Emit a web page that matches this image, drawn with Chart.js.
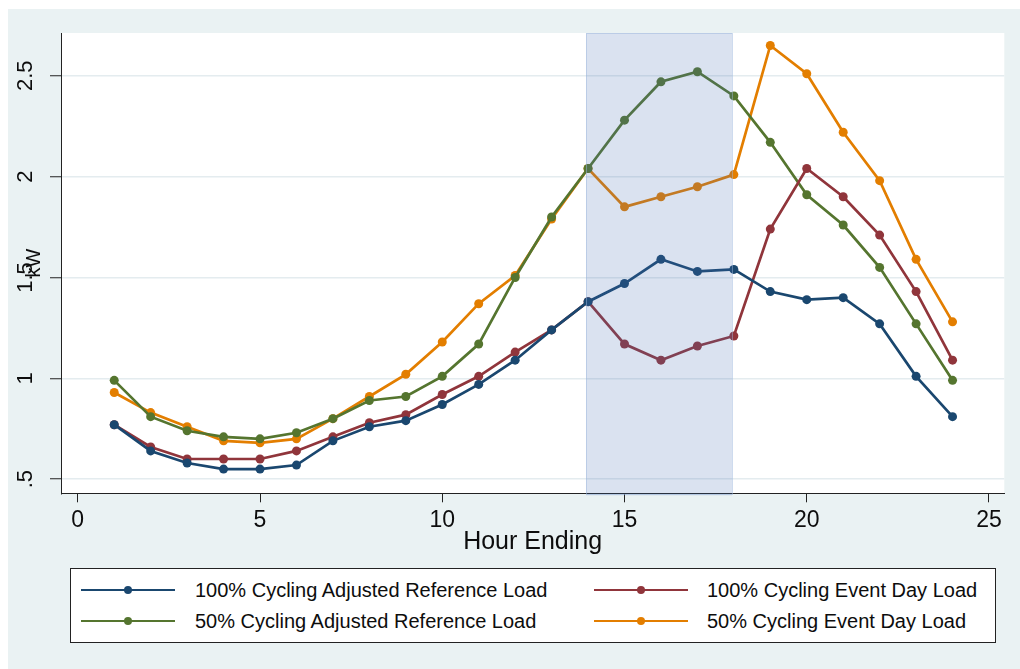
<!DOCTYPE html>
<html>
<head>
<meta charset="utf-8">
<title>Hourly load, cycling event day</title>
<script src="https://cdn.jsdelivr.net/npm/chart.js@4.4.1/dist/chart.umd.min.js"></script>
<style>
    html, body { margin: 0; padding: 0; background: #fff; }
    #frame { position: absolute; left: 8px; top: 9px; width: 1012px; height: 660px; background: #eaf2f3; overflow: hidden; }
    #chart { position: absolute; left: 0; top: 0; }
    #legend {
        position: absolute; left: 62px; top: 559px; width: 924px; height: 73px;
        background: #fff; border: 1px solid #222;
        font-family: "Liberation Sans", Arial, sans-serif; font-size: 20px; color: #0d0d0d;
    }
    .swatch { position: absolute; width: 94px; height: 2px; }
    .swatch i { position: absolute; left: 43px; top: -3px; width: 8px; height: 8px; border-radius: 50%; }
    .label { position: absolute; white-space: nowrap; line-height: 22px; }
</style>
</head>
<body>
<div id="frame">
    <canvas id="chart" width="1012" height="555"></canvas>
    <div id="legend"></div>
</div>
<script>
(function () {
    "use strict";

    const hours = [1, 2, 3, 4, 5, 6, 7, 8, 9, 10, 11, 12, 13, 14, 15, 16, 17, 18, 19, 20, 21, 22, 23, 24];
    const adj100 = [0.77, 0.64, 0.58, 0.55, 0.55, 0.57, 0.69, 0.76, 0.79, 0.87, 0.97, 1.09, 1.24, 1.38, 1.47, 1.59, 1.53, 1.54, 1.43, 1.39, 1.40, 1.27, 1.01, 0.81];
    const event100 = [0.77, 0.66, 0.60, 0.60, 0.60, 0.64, 0.71, 0.78, 0.82, 0.92, 1.01, 1.13, 1.24, 1.38, 1.17, 1.09, 1.16, 1.21, 1.74, 2.04, 1.90, 1.71, 1.43, 1.09];
    const adj50 = [0.99, 0.81, 0.74, 0.71, 0.70, 0.73, 0.80, 0.89, 0.91, 1.01, 1.17, 1.50, 1.80, 2.04, 2.28, 2.47, 2.52, 2.40, 2.17, 1.91, 1.76, 1.55, 1.27, 0.99];
    const event50 = [0.93, 0.83, 0.76, 0.69, 0.68, 0.70, 0.80, 0.91, 1.02, 1.18, 1.37, 1.51, 1.79, 2.04, 1.85, 1.90, 1.95, 2.01, 2.65, 2.51, 2.22, 1.98, 1.59, 1.28];
    const seriesNames = [
        "100% Cycling Adjusted Reference Load",
        "100% Cycling Event Day Load",
        "50% Cycling Adjusted Reference Load",
        "50% Cycling Event Day Load"
    ];
    const xTicks = [0, 5, 10, 15, 20, 25];
    const yTicks = [0.5, 1, 1.5, 2, 2.5];
    const yTickLabels = [".5", "1", "1.5", "2", "2.5"];
    const eventWindow = [14, 18];

    const palette = {
        navy: "#1a476f",
        maroon: "#90353b",
        green: "#55752f",
        orange: "#e37e00",
        text: "#0d0d0d",
        axis: "#222",
        grid: "#e4ecef"
    };
    const family = '"Liberation Sans", Arial, sans-serif';

    const series = [
        { name: seriesNames[0], values: adj100, color: palette.navy },
        { name: seriesNames[1], values: event100, color: palette.maroon },
        { name: seriesNames[2], values: adj50, color: palette.green },
        { name: seriesNames[3], values: event50, color: palette.orange }
    ];

    // white plot region on the grey page
    const plotBackground = {
        id: "plotBackground",
        beforeDraw(chart) {
            const { ctx, chartArea: a } = chart;
            ctx.save();
            ctx.fillStyle = "#fff";
            ctx.fillRect(a.left, a.top, a.right - a.left, a.bottom - a.top);
            ctx.restore();
        }
    };

    // translucent box over the event hours (stata draws it a hair left of the hour)
    const eventShade = {
        id: "eventShade",
        afterDatasetsDraw(chart) {
            const { ctx, chartArea: a, scales: { x } } = chart;
            const x1 = Math.round(x.getPixelForValue(eventWindow[0]) - 2);
            const x2 = Math.round(x.getPixelForValue(eventWindow[1]) - 2);
            ctx.save();
            ctx.fillStyle = "rgba(70,110,180,0.2)";
            ctx.fillRect(x1, a.top, x2 - x1, a.bottom - a.top + 2);
            ctx.strokeStyle = "#9db6dc";
            ctx.lineWidth = 1;
            ctx.setLineDash([1, 1]);
            ctx.strokeRect(x1 + 0.5, Math.round(a.top) + 0.5, x2 - x1, Math.round(a.bottom - a.top) + 1);
            ctx.restore();
        }
    };

    new Chart(document.getElementById("chart"), {
        type: "line",
        data: {
            datasets: series.map((s) => ({
                label: s.name,
                data: hours.map((h, i) => ({ x: h, y: s.values[i] })),
                borderColor: s.color,
                backgroundColor: s.color,
                borderWidth: 2.7,
                pointRadius: 4.5,
                pointHoverRadius: 4.5,
                pointBorderWidth: 0,
                tension: 0
            }))
        },
        options: {
            responsive: false,
            animation: false,
            layout: { padding: { top: 24, right: 15.7, left: 0, bottom: 0 } },
            plugins: {
                legend: { display: false },
                tooltip: { enabled: false }
            },
            scales: {
                x: {
                    type: "linear",
                    min: -0.46,
                    max: 25.42,
                    afterBuildTicks: (s) => { s.ticks = xTicks.map((v) => ({ value: v })); },
                    afterFit: (s) => { s.height = 70.7; },
                    grid: { drawOnChartArea: false, tickLength: 9, tickColor: palette.axis, tickWidth: 1 },
                    border: { color: palette.axis, width: 1 },
                    ticks: { color: palette.text, padding: 4.4, maxRotation: 0, font: { family: family, size: 23 } },
                    title: { display: true, text: "Hour Ending", color: palette.text, font: { family: family, size: 25 }, padding: { top: 0, bottom: 7 } }
                },
                y: {
                    min: 0.43,
                    max: 2.712,
                    afterBuildTicks: (s) => { s.ticks = yTicks.map((v) => ({ value: v })); },
                    afterFit: (s) => { s.width = 53; },
                    grid: { color: palette.grid, lineWidth: 1.5, tickLength: 11, tickColor: palette.axis, tickWidth: 1 },
                    border: { color: palette.axis, width: 1 },
                    ticks: {
                        minRotation: 90,
                        maxRotation: 90,
                        crossAlign: "center",
                        padding: 8.7,
                        color: palette.text,
                        font: { family: family, size: 22 },
                        callback: (v) => yTickLabels[yTicks.indexOf(v)]
                    },
                    title: { display: true, text: "kW", color: palette.text, font: { family: family, size: 20 }, padding: { top: 14, bottom: 0 } }
                }
            }
        },
        plugins: [plotBackground, eventShade]
    });

    // legend box, two columns
    const legend = document.getElementById("legend");
    const cols = [{ line: 10, text: 124 }, { line: 523, text: 636 }];
    const rows = [20.7, 52.4];
    series.forEach((s, i) => {
        const col = cols[i % 2];
        const rowY = rows[Math.floor(i / 2)];
        const sw = document.createElement("div");
        sw.className = "swatch";
        sw.style.left = col.line + "px";
        sw.style.top = (rowY - 1) + "px";
        sw.style.background = s.color;
        const dot = document.createElement("i");
        dot.style.background = s.color;
        sw.appendChild(dot);
        const lab = document.createElement("div");
        lab.className = "label";
        lab.style.left = col.text + "px";
        lab.style.top = (rowY - 11) + "px";
        lab.textContent = s.name;
        legend.appendChild(sw);
        legend.appendChild(lab);
    });
})();
</script>
</body>
</html>
